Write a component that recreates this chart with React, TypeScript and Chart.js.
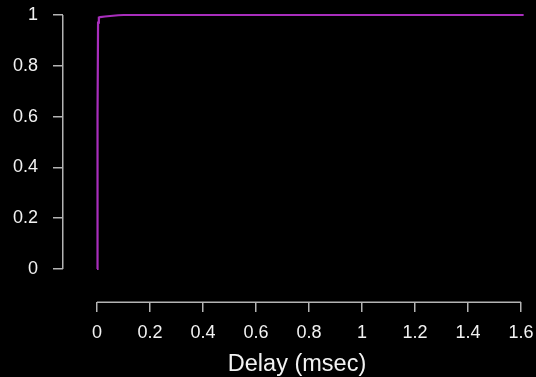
import React, { useEffect, useRef } from "react";
import { Chart, registerables } from "chart.js";

Chart.register(...registerables);

// Data
const delayMsec = [0, 0.002, 0.004, 0.007, 0.012, 0.03, 0.06, 0.08, 0.1, 0.3, 1.0, 1.61];
const cumulativeFraction = [0, 0.6, 0.97, 0.99, 0.992, 0.994, 0.997, 0.999, 1, 1, 1, 1];
const xTickValues = [0, 0.2, 0.4, 0.6, 0.8, 1, 1.2, 1.4, 1.6];
const yTickValues = [0, 0.2, 0.4, 0.6, 0.8, 1];
const xAxisTitle = "Delay (msec)";

const W = 536;
const H = 377;
const AXIS_COLOR = "#b4b4b4";
const TEXT_COLOR = "#f2f2f2";
const LINE_COLOR = "#a82ebc";
const FONT = "'Liberation Sans', Arial, Helvetica, sans-serif";

const fmt = (v: number) => String(Number(v.toFixed(1)));

const blackBg = {
  id: "blackBg",
  beforeDraw(chart: any) {
    const { ctx, width, height } = chart;
    ctx.save();
    ctx.fillStyle = "#000";
    ctx.fillRect(0, 0, width, height);
    ctx.restore();
  },
};

const axisLines = {
  id: "axisLines",
  afterDraw(chart: any) {
    const { ctx, chartArea, scales } = chart;
    const x = scales.x;
    const y = scales.y;
    ctx.save();
    ctx.strokeStyle = AXIS_COLOR;
    ctx.lineWidth = 1.5;
    ctx.beginPath();
    const lx = Math.round(chartArea.left) - 0.25;
    ctx.moveTo(lx, y.getPixelForValue(yTickValues[0]));
    ctx.lineTo(lx, y.getPixelForValue(yTickValues[yTickValues.length - 1]));
    const by = Math.round(chartArea.bottom) + 0.25;
    ctx.moveTo(x.getPixelForValue(xTickValues[0]), by);
    ctx.lineTo(x.getPixelForValue(xTickValues[xTickValues.length - 1]), by);
    ctx.stroke();
    ctx.restore();
  },
};

const zeroPad = (s: any) => {
  s.paddingTop = 0;
  s.paddingBottom = 0;
  s.paddingLeft = 0;
  s.paddingRight = 0;
};

export default function App() {
  const ref = useRef<HTMLCanvasElement | null>(null);

  useEffect(() => {
    if (!ref.current) return;
    const chart = new Chart(ref.current, {
      type: "line",
      data: {
        datasets: [
          {
            data: delayMsec.map((d, i) => ({ x: d, y: cumulativeFraction[i] })),
            borderColor: LINE_COLOR,
            borderWidth: 2.2,
            pointRadius: 0,
            tension: 0,
            fill: false,
          },
        ],
      },
      options: {
        animation: false,
        responsive: false,
        events: [],
        layout: { padding: { left: 0, right: 5, top: 5, bottom: 0 } },
        plugins: { legend: { display: false }, tooltip: { enabled: false } },
        scales: {
          x: {
            type: "linear",
            min: -34 / 265,
            max: -34 / 265 + 468 / 265,
            afterBuildTicks: (s: any) => {
              s.ticks = xTickValues.map((v) => ({ value: v }));
            },
            afterFit: (s: any) => {
              s.height = H - 302;
              zeroPad(s);
            },
            border: { display: false },
            grid: {
              drawOnChartArea: false,
              drawTicks: true,
              tickLength: 10,
              color: AXIS_COLOR,
              lineWidth: 1.5,
            },
            ticks: {
              color: TEXT_COLOR,
              font: { family: FONT, size: 18 },
              padding: 10,
              maxRotation: 0,
              autoSkip: false,
              callback: (v: any) => fmt(Number(v)),
            },
            title: {
              display: true,
              text: xAxisTitle,
              color: TEXT_COLOR,
              font: { family: FONT, size: 23.5 },
              padding: { top: 0, bottom: -2 },
            },
          },
          y: {
            type: "linear",
            min: -33 / 254,
            max: 1 + 10 / 254,
            afterBuildTicks: (s: any) => {
              s.ticks = yTickValues.map((v) => ({ value: v }));
            },
            afterFit: (s: any) => {
              s.width = 63;
              zeroPad(s);
            },
            border: { display: false },
            grid: {
              drawOnChartArea: false,
              drawTicks: true,
              tickLength: 10,
              color: AXIS_COLOR,
              lineWidth: 1.5,
            },
            ticks: {
              color: TEXT_COLOR,
              font: { family: FONT, size: 18 },
              padding: 15,
              autoSkip: false,
              callback: (v: any) => fmt(Number(v)),
            },
          },
        },
      },
      plugins: [blackBg, axisLines],
    });
    return () => chart.destroy();
  }, []);

  return (
    <div style={{ position: "absolute", left: 0, top: 0, width: W, height: H, background: "#000" }}>
      <canvas ref={ref} width={W} height={H} style={{ display: "block", width: W, height: H }} />
    </div>
  );
}
